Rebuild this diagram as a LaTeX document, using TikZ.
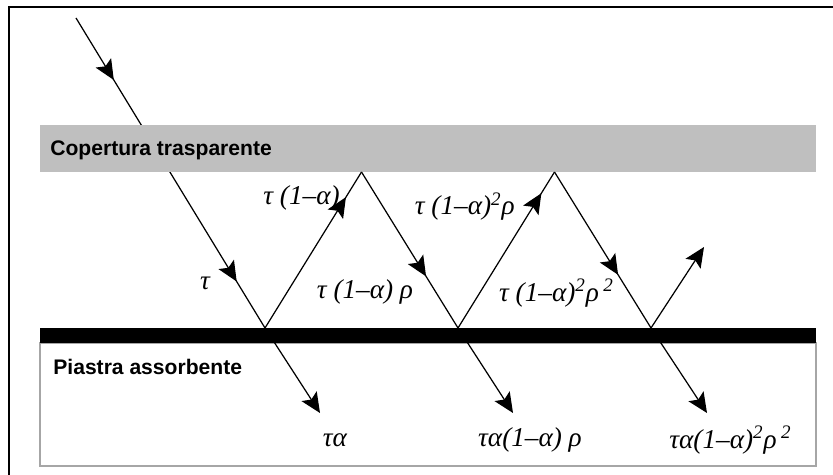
\documentclass[tikz,border=0pt]{standalone}
\usepackage{fontspec}
\setmainfont{Liberation Serif}
\setsansfont{Liberation Sans}
\usepackage{tikz}
\usetikzlibrary{arrows.meta,decorations.markings}

\tikzset{
  raytip/.tip={Stealth[length=0.4cm,width=0.36cm,inset=0.08cm]},
  ray/.style={line width=0.7pt},
  midarrow/.style={postaction={decorate},
    decoration={markings,mark=at position #1 with {\arrow{raytip}}}},
  layertext/.style={font=\sffamily\bfseries\fontsize{12}{14}\selectfont, anchor=west, inner sep=0pt},
  coeff/.style={font=\itshape\fontsize{15.5}{18}\selectfont, inner sep=0pt},
}

\begin{document}
\begin{tikzpicture}
  \useasboundingbox (0,0) rectangle (16.66,9.5);

  % frame (left and top only)
  \draw[line width=1.3pt] (0.18,0) -- (0.18,9.36) -- (16.66,9.36);

  % hit points on the plate and on the cover
  \coordinate (src) at (1.52,9.14);
  \coordinate (h1) at (5.30,2.94);
  \coordinate (p1) at (7.23,6.06);
  \coordinate (h2) at (9.16,2.94);
  \coordinate (p2) at (11.09,6.06);
  \coordinate (h3) at (13.02,2.94);
  \coordinate (out) at (14.08,4.56);
  \coordinate (t1) at (6.40,1.24);
  \coordinate (t2) at (10.26,1.24);
  \coordinate (t3) at (14.14,1.24);

  % incoming ray (under the cover)
  \draw[ray, postaction={decorate}, decoration={markings,
      mark=at position 0.2 with {\arrow{raytip}},
      mark=at position 0.85 with {\arrow{raytip}}}] (src) -- (h1);

  % transparent cover
  \fill[gray!50] (0.8,6.06) rectangle (16.32,7.0);
  \node[layertext] (cover) at (1.0,6.50) {Copertura trasparente};

  % absorber plate
  \draw[gray!70, line width=0.6pt] (0.8,2.64) rectangle (16.32,0.18);
  \fill[black] (0.8,2.64) rectangle (16.32,2.94);
  \node[layertext] (plate) at (1.06,2.16) {Piastra assorbente};

  % reflections between plate and cover
  \draw[ray, midarrow=0.84] (h1) -- (p1);
  \draw[ray, midarrow=0.67] (p1) -- (h2);
  \draw[ray, midarrow=0.865] (h2) -- (p2);
  \draw[ray, midarrow=0.66] (p2) -- (h3);
  \draw[ray, -raytip] (h3) -- (out);

  % absorbed parts
  \draw[ray, -raytip] (h1) -- (t1);
  \draw[ray, -raytip] (h2) -- (t2);
  \draw[ray, -raytip] (h3) -- (t3);

  % coefficients
  \node[coeff] (c0) at (4.10,3.84) {τ};
  \node[coeff, anchor=east] (c1) at (6.80,5.54) {τ (1–α)};
  \node[coeff] (c2) at (7.30,3.66) {τ (1–α) ρ};
  \node[coeff, anchor=east] (c3) at (10.30,5.36) {τ (1–α)\textsuperscript{2}ρ};
  \node[coeff] (c4) at (11.13,3.64) {τ (1–α)\textsuperscript{2}ρ\,\textsuperscript{2}};
  \node[coeff] (a1) at (6.70,0.70) {τα};
  \node[coeff] (a2) at (10.60,0.70) {τα(1–α) ρ};
  \node[coeff] (a3) at (14.61,0.70) {τα(1–α)\textsuperscript{2}ρ\,\textsuperscript{2}};
\end{tikzpicture}
\end{document}
